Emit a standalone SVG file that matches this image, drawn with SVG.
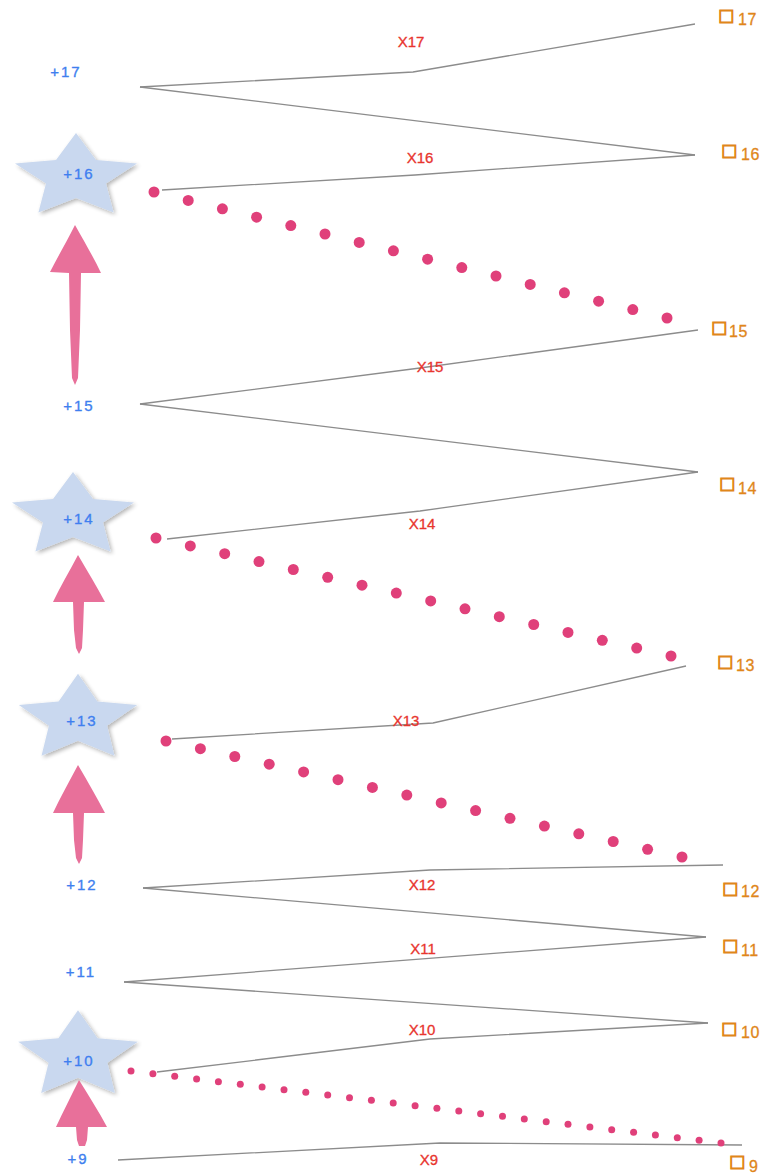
<svg xmlns="http://www.w3.org/2000/svg" width="763" height="1175" viewBox="0 0 763 1175">
  <style>
    .edge { fill: none; stroke: #8c8c8c; stroke-width: 1.3; stroke-linejoin: round; }
    .lab-l { font-family: "Liberation Sans", Arial, sans-serif; font-size: 15px; fill: #3f7fef; stroke: #3f7fef; stroke-width: 0.35; text-anchor: middle; letter-spacing: 2px; }
    .lab-e { font-family: "Liberation Sans", Arial, sans-serif; font-size: 15px; fill: #e8352e; stroke: #e8352e; stroke-width: 0.3; text-anchor: middle; }
    .lab-r { font-family: "Liberation Sans", Arial, sans-serif; font-size: 16px; fill: #e0861a; stroke: #e0861a; stroke-width: 0.3; letter-spacing: 0.5px; }
    .sq { font-family: "DejaVu Sans", sans-serif; font-size: 17px; stroke-width: 0.9; }
    .star { fill: #c9d8ef; filter: url(#soft); }
    .arrow { fill: #e8709a; }
    .dot { fill: #e0407a; }
  </style>
  <defs>
    <filter id="soft" x="-20%" y="-20%" width="150%" height="150%">
      <feGaussianBlur in="SourceAlpha" stdDeviation="2"/>
      <feOffset dx="2" dy="2" result="sh"/>
      <feComponentTransfer><feFuncA type="linear" slope="0.3"/></feComponentTransfer>
      <feMerge><feMergeNode/><feMergeNode in="SourceGraphic"/></feMerge>
    </filter>
    <path id="star" d="M0,-44 L20,-17 L61,-13.6 L30,6.5 L37.6,35.6 L0,21 L-37.6,35.6 L-30,6.5 L-61,-13.6 L-20,-17 Z"/>
  </defs>

  <!-- connectors -->
  <g id="connectors">
    <polyline class="edge" points="140,87 413,72 695,24"/>
    <polyline class="edge" points="140,87 695,155"/>
    <polyline class="edge" points="162,190 415,175 695,155"/>
    <polyline class="edge" points="140,404 420,368 698,330"/>
    <polyline class="edge" points="140,404 698,472"/>
    <polyline class="edge" points="167,539 420,511 698,472"/>
    <polyline class="edge" points="172,739 433,723 686,666"/>
    <polyline class="edge" points="143,888 430,870 723,865"/>
    <polyline class="edge" points="143,888 706,937"/>
    <polyline class="edge" points="124,982 706,937"/>
    <polyline class="edge" points="124,982 708,1023"/>
    <polyline class="edge" points="157,1072 430,1039 708,1023"/>
    <polyline class="edge" points="118,1160 440,1143 742,1145"/>

    <!-- dotted chains -->
    <g class="dot">
      <circle cx="154" cy="192" r="5.5"/><circle cx="188.2" cy="200.4" r="5.5"/><circle cx="222.4" cy="208.8" r="5.5"/><circle cx="256.6" cy="217.2" r="5.5"/>
      <circle cx="290.8" cy="225.6" r="5.5"/><circle cx="325" cy="234" r="5.5"/><circle cx="359.2" cy="242.4" r="5.5"/><circle cx="393.4" cy="250.8" r="5.5"/>
      <circle cx="427.6" cy="259.2" r="5.5"/><circle cx="461.8" cy="267.6" r="5.5"/><circle cx="496" cy="276" r="5.5"/><circle cx="530.2" cy="284.4" r="5.5"/>
      <circle cx="564.4" cy="292.8" r="5.5"/><circle cx="598.6" cy="301.2" r="5.5"/><circle cx="632.8" cy="309.6" r="5.5"/><circle cx="667" cy="318" r="5.5"/>

      <circle cx="156" cy="538" r="5.5"/><circle cx="190.3" cy="545.9" r="5.5"/><circle cx="224.7" cy="553.7" r="5.5"/><circle cx="259" cy="561.6" r="5.5"/>
      <circle cx="293.3" cy="569.5" r="5.5"/><circle cx="327.7" cy="577.3" r="5.5"/><circle cx="362" cy="585.2" r="5.5"/><circle cx="396.3" cy="593.1" r="5.5"/>
      <circle cx="430.7" cy="600.9" r="5.5"/><circle cx="465" cy="608.8" r="5.5"/><circle cx="499.3" cy="616.7" r="5.5"/><circle cx="533.7" cy="624.5" r="5.5"/>
      <circle cx="568" cy="632.4" r="5.5"/><circle cx="602.3" cy="640.3" r="5.5"/><circle cx="636.7" cy="648.1" r="5.5"/><circle cx="671" cy="656" r="5.5"/>

      <circle cx="166" cy="741" r="5.5"/><circle cx="200.4" cy="748.7" r="5.5"/><circle cx="234.8" cy="756.5" r="5.5"/><circle cx="269.2" cy="764.2" r="5.5"/>
      <circle cx="303.6" cy="771.9" r="5.5"/><circle cx="338" cy="779.7" r="5.5"/><circle cx="372.4" cy="787.4" r="5.5"/><circle cx="406.8" cy="795.1" r="5.5"/>
      <circle cx="441.2" cy="802.9" r="5.5"/><circle cx="475.6" cy="810.6" r="5.5"/><circle cx="510" cy="818.3" r="5.5"/><circle cx="544.4" cy="826.1" r="5.5"/>
      <circle cx="578.8" cy="833.8" r="5.5"/><circle cx="613.2" cy="841.5" r="5.5"/><circle cx="647.6" cy="849.3" r="5.5"/><circle cx="682" cy="857" r="5.5"/>

      <circle cx="131" cy="1071" r="3.5"/><circle cx="152.9" cy="1073.7" r="3.5"/><circle cx="174.7" cy="1076.3" r="3.5"/><circle cx="196.6" cy="1079" r="3.5"/>
      <circle cx="218.4" cy="1081.7" r="3.5"/><circle cx="240.3" cy="1084.3" r="3.5"/><circle cx="262.1" cy="1087" r="3.5"/><circle cx="284" cy="1089.7" r="3.5"/>
      <circle cx="305.8" cy="1092.3" r="3.5"/><circle cx="327.7" cy="1095" r="3.5"/><circle cx="349.5" cy="1097.7" r="3.5"/><circle cx="371.4" cy="1100.3" r="3.5"/>
      <circle cx="393.2" cy="1103" r="3.5"/><circle cx="415.1" cy="1105.7" r="3.5"/><circle cx="436.9" cy="1108.3" r="3.5"/><circle cx="458.8" cy="1111" r="3.5"/>
      <circle cx="480.6" cy="1113.7" r="3.5"/><circle cx="502.5" cy="1116.3" r="3.5"/><circle cx="524.3" cy="1119" r="3.5"/><circle cx="546.2" cy="1121.7" r="3.5"/>
      <circle cx="568" cy="1124.3" r="3.5"/><circle cx="589.9" cy="1127" r="3.5"/><circle cx="611.7" cy="1129.7" r="3.5"/><circle cx="633.6" cy="1132.3" r="3.5"/>
      <circle cx="655.4" cy="1135" r="3.5"/><circle cx="677.3" cy="1137.7" r="3.5"/><circle cx="699.1" cy="1140.3" r="3.5"/><circle cx="721" cy="1143" r="3.5"/>
    </g>

    <!-- upward arrows -->
    <path class="arrow" d="M75,225 C85,243 94,258 101,273 L81,273 L80,330 L78,378 L75,385 L72,378 L70,330 L69,273 L50,272 C57,258 66,243 75,225 Z"/>
    <path class="arrow" d="M78,555 C88,572 97,587 105,602 L84,602 L83,630 L82,648 L79,654 L76,648 L74,630 L73,602 L53,602 C60,587 69,572 78,555 Z"/>
    <path class="arrow" d="M78,765 C88,782 97,798 105,813 L84,813 L83,840 L82,858 L79,864 L76,858 L74,840 L73,813 L53,813 C60,798 69,782 78,765 Z"/>
  </g>

  <!-- left column -->
  <g id="n17"><text class="lab-l" x="66" y="77">+17</text></g>
  <g id="n16"><use href="#star" class="star" transform="translate(76,177)"/><text class="lab-l" x="79" y="179">+16</text></g>
  <g id="n15"><text class="lab-l" x="79" y="411">+15</text></g>
  <g id="n14"><use href="#star" class="star" transform="translate(73,516)"/><text class="lab-l" x="79" y="524">+14</text></g>
  <g id="n13"><use href="#star" class="star" transform="translate(78,719) scale(0.97,1.03)"/><text class="lab-l" x="82" y="726">+13</text></g>
  <g id="n12"><text class="lab-l" x="82" y="890">+12</text></g>
  <g id="n11"><text class="lab-l" x="81" y="977">+11</text></g>
  <g id="n10"><use href="#star" class="star" transform="translate(78,1056) scale(0.98,1.04)"/><text class="lab-l" x="79" y="1066">+10</text></g>
  <g id="a9-10"><path class="arrow" d="M79,1080 C89,1096 99,1112 107,1127 L88,1127 L87,1140 L85,1146 L79,1146 L77,1140 L76,1127 L56,1127 C63,1112 71,1096 79,1080 Z"/></g>
  <g id="n9"><text class="lab-l" x="78" y="1164">+9</text></g>

  <!-- edge labels -->
  <g id="edge-labels">
    <text class="lab-e" x="411" y="47">X17</text>
    <text class="lab-e" x="420" y="163">X16</text>
    <text class="lab-e" x="430" y="372">X15</text>
    <text class="lab-e" x="422" y="529">X14</text>
    <text class="lab-e" x="406" y="726">X13</text>
    <text class="lab-e" x="422" y="890">X12</text>
    <text class="lab-e" x="423" y="954">X11</text>
    <text class="lab-e" x="422" y="1035">X10</text>
    <text class="lab-e" x="429" y="1165">X9</text>
  </g>

  <!-- right column -->
  <g id="s17"><text class="lab-r" x="718" y="21"><tspan class="sq">□</tspan><tspan x="738" y="25">17</tspan></text></g>
  <g id="s16"><text class="lab-r" x="721" y="156"><tspan class="sq">□</tspan><tspan x="741" y="160">16</tspan></text></g>
  <g id="s15"><text class="lab-r" x="711" y="333"><tspan class="sq">□</tspan><tspan x="729" y="337">15</tspan></text></g>
  <g id="s14"><text class="lab-r" x="719" y="489"><tspan class="sq">□</tspan><tspan x="738" y="494">14</tspan></text></g>
  <g id="s13"><text class="lab-r" x="717" y="667"><tspan class="sq">□</tspan><tspan x="736" y="671">13</tspan></text></g>
  <g id="s12"><text class="lab-r" x="722" y="894"><tspan class="sq">□</tspan><tspan x="741" y="897">12</tspan></text></g>
  <g id="s11"><text class="lab-r" x="722" y="951"><tspan class="sq">□</tspan><tspan x="741" y="956">11</tspan></text></g>
  <g id="s10"><text class="lab-r" x="721" y="1034"><tspan class="sq">□</tspan><tspan x="741" y="1038">10</tspan></text></g>
  <g id="s9"><text class="lab-r" x="729" y="1167"><tspan class="sq">□</tspan><tspan x="749" y="1172">9</tspan></text></g>
</svg>
